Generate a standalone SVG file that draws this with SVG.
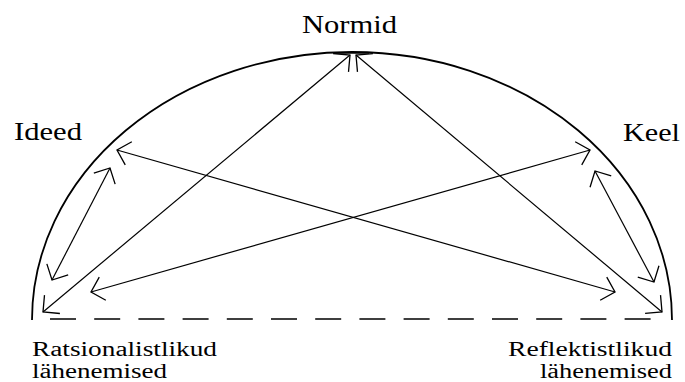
<svg xmlns="http://www.w3.org/2000/svg" width="685" height="382" viewBox="0 0 685 382">
<style>
  text { fill: #000; font-family: "Liberation Serif", "Times New Roman", serif; }
  .lbl { font-size: 26px; }
  .sub { font-size: 20px; }
  .ln { stroke: #000; stroke-width: 1.2; fill: none; }
</style>
<defs>
  <marker id="ah" markerUnits="userSpaceOnUse" markerWidth="30" markerHeight="30" viewBox="-15 -15 30 30" refX="0" refY="0" orient="auto-start-reverse">
    <path d="M -12 -12 L 0 0 L -12 12" fill="none" stroke="#000" stroke-width="1.3"/>
  </marker>
</defs>
<rect width="685" height="382" fill="#fff"/>
<g id="frame">
  <path d="M 32 320 A 320 268 0 0 1 672 320" fill="none" stroke="#000" stroke-width="1.8"/>
  <line x1="50" y1="319" x2="662" y2="319" stroke="#000" stroke-width="1.6" stroke-dasharray="26 18.2"/>
</g>
<g id="normid"><text class="lbl" x="302" y="33" textLength="95" lengthAdjust="spacingAndGlyphs">Normid</text></g>
<g id="ideed"><text class="lbl" x="14" y="140" textLength="68" lengthAdjust="spacingAndGlyphs">Ideed</text></g>
<g id="keel"><text class="lbl" x="623" y="141" textLength="57" lengthAdjust="spacingAndGlyphs">Keel</text></g>
<g id="ratsionalistlikud">
  <text class="sub" x="32" y="356" textLength="185" lengthAdjust="spacingAndGlyphs">Ratsionalistlikud</text>
  <text class="sub" x="32" y="377.5" textLength="135" lengthAdjust="spacingAndGlyphs">lähenemised</text>
</g>
<g id="reflektistlikud">
  <text class="sub" x="508" y="356" textLength="164" lengthAdjust="spacingAndGlyphs">Reflektistlikud</text>
  <text class="sub" x="540" y="377.5" textLength="132" lengthAdjust="spacingAndGlyphs">lähenemised</text>
</g>
<g id="connectors" class="ln">
  <line x1="43" y1="312" x2="350" y2="55" marker-start="url(#ah)" marker-end="url(#ah)"/>
  <line x1="662" y1="312" x2="356" y2="55" marker-start="url(#ah)" marker-end="url(#ah)"/>
  <line x1="117" y1="150" x2="615" y2="292" marker-start="url(#ah)" marker-end="url(#ah)"/>
  <line x1="590" y1="150" x2="91" y2="292" marker-start="url(#ah)" marker-end="url(#ah)"/>
  <line x1="110" y1="168" x2="52" y2="280" marker-start="url(#ah)" marker-end="url(#ah)"/>
  <line x1="595" y1="171" x2="654" y2="282" marker-start="url(#ah)" marker-end="url(#ah)"/>
  <line x1="336" y1="53" x2="369" y2="53" stroke-width="1.6"/>
</g>
</svg>
